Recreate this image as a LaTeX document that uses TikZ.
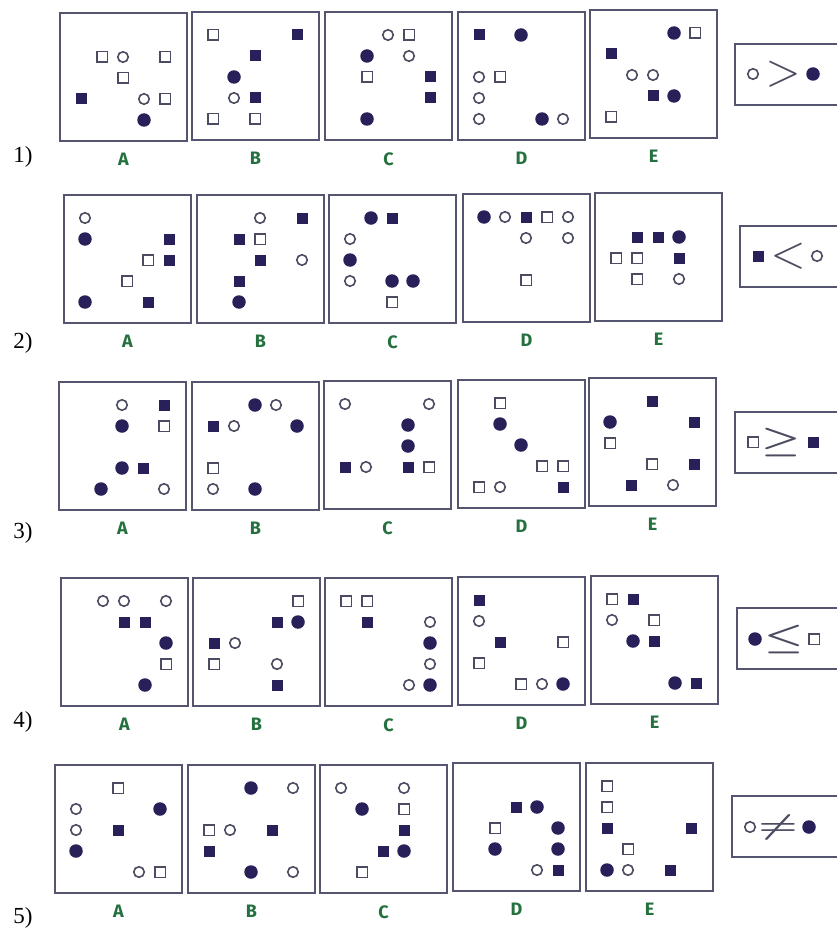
\documentclass[tikz,border=0pt]{standalone}
\usepackage{fontspec}
\usepackage{graphicx}
\usepackage{tikz}
\setmainfont{Liberation Serif}
\newfontfamily\letterfont{Fira Sans}
\usetikzlibrary{positioning}
\definecolor{figink}{RGB}{40, 32, 88}
\definecolor{lineink}{RGB}{75, 75, 98}
\definecolor{framegray}{RGB}{85, 85, 112}
\definecolor{lettergreen}{RGB}{36, 112, 62}

\tikzset{
    panelbox/.style={draw=framegray, line width=1.6pt, minimum width=127pt,
                     minimum height=128pt, inner sep=0pt},
    panellabel/.style={text=lettergreen, font=\letterfont\bfseries\fontsize{18}{18}\selectfont},
    opendot/.style={circle, draw=lineink, line width=1.6pt, minimum size=10.5pt, inner sep=0pt},
    fulldot/.style={circle, fill=figink, minimum size=13.5pt, inner sep=0pt},
    openbox/.style={rectangle, draw=lineink, line width=1.5pt, minimum size=10.5pt, inner sep=0pt},
    fullbox/.style={rectangle, fill=figink, minimum size=11pt, inner sep=0pt},
    relframe/.style={draw=framegray, line width=1.6pt, minimum width=140pt,
                     minimum height=61pt, anchor=north west, inner sep=0pt},
    relsign/.style={text=lineink, inner sep=0pt},
    rowno/.style={font=\fontsize{23}{23}\selectfont}
}

% #1 name, #2 letter, #3 left, #4 top, #5 kind/col/row list
\newcommand{\drawpanel}[5]{%
    \node[panelbox] (#1) at (#3+63.5,#4+64) {};
    \node[panellabel, below=8pt of #1] (#1-name) {#2};
    \foreach \kind/\col/\row [count=\i] in {#5}
        \node[\kind] (#1-\i) at (#3+21*\col,#4+2+21*\row) {};
}

\begin{document}
\begin{tikzpicture}[x=1pt, y=-1pt]
    \useasboundingbox (0,0) rectangle (837,931);
    \fill[white] (0,0) rectangle (837,931);
    \clip (0,0) rectangle (837,931);

    % row 1
    \node[rowno] (row1) at (23,157) {1)};
    \drawpanel{p1a}{A}{60}{13}{openbox/2/2, opendot/3/2, openbox/5/2, openbox/3/3, fullbox/1/4, opendot/4/4, openbox/5/4, fulldot/4/5}
    \drawpanel{p1b}{B}{192}{12}{openbox/1/1, fullbox/5/1, fullbox/3/2, fulldot/2/3, opendot/2/4, fullbox/3/4, openbox/1/5, openbox/3/5}
    \drawpanel{p1c}{C}{325}{12}{opendot/3/1, openbox/4/1, fulldot/2/2, opendot/4/2, openbox/2/3, fullbox/5/3, fullbox/5/4, fulldot/2/5}
    \drawpanel{p1d}{D}{458}{12}{fullbox/1/1, fulldot/3/1, opendot/1/3, openbox/2/3, opendot/1/4, opendot/1/5, fulldot/4/5, opendot/5/5}
    \drawpanel{p1e}{E}{590}{10}{fulldot/4/1, openbox/5/1, fullbox/1/2, opendot/2/3, opendot/3/3, fullbox/3/4, fulldot/4/4, openbox/1/5}
    \node[relframe] (rel1) at (734,43) {};
    \node[opendot] (rel1-a) at (753,74) {};
    \node[relsign] (rel1-op) at (783,74) {\scalebox{4.5}{$>$}};
    \node[fulldot] (rel1-b) at (813,74) {};

    % row 2
    \node[rowno] (row2) at (23,343) {2)};
    \drawpanel{p2a}{A}{64}{195}{opendot/1/1, fulldot/1/2, fullbox/5/2, openbox/4/3, fullbox/5/3, openbox/3/4, fulldot/1/5, fullbox/4/5}
    \drawpanel{p2b}{B}{197}{195}{opendot/3/1, fullbox/5/1, fullbox/2/2, openbox/3/2, fullbox/3/3, opendot/5/3, fullbox/2/4, fulldot/2/5}
    \drawpanel{p2c}{C}{329}{195}{fulldot/2/1, fullbox/3/1, opendot/1/2, fulldot/1/3, opendot/1/4, fulldot/3/4, fulldot/4/4, openbox/3/5}
    \drawpanel{p2d}{D}{463}{194}{fulldot/1/1, opendot/2/1, fullbox/3/1, openbox/4/1, opendot/5/1, opendot/3/2, opendot/5/2, openbox/3/4}
    \drawpanel{p2e}{E}{595}{193}{fullbox/2/2, fullbox/3/2, fulldot/4/2, openbox/1/3, openbox/2/3, fullbox/4/3, openbox/2/4, opendot/4/4}
    \node[relframe] (rel2) at (739,225) {};
    \node[fullbox] (rel2-a) at (758,256) {};
    \node[relsign] (rel2-op) at (788,256) {\scalebox{4.5}{$<$}};
    \node[opendot] (rel2-b) at (817,256) {};

    % row 3
    \node[rowno] (row3) at (23,533) {3)};
    \drawpanel{p3a}{A}{59}{382}{opendot/3/1, fullbox/5/1, fulldot/3/2, openbox/5/2, fulldot/3/4, fullbox/4/4, fulldot/2/5, opendot/5/5}
    \drawpanel{p3b}{B}{192}{382}{fulldot/3/1, opendot/4/1, fullbox/1/2, opendot/2/2, fulldot/5/2, openbox/1/4, opendot/1/5, fulldot/3/5}
    \drawpanel{p3c}{C}{324}{381}{opendot/1/1, opendot/5/1, fulldot/4/2, fulldot/4/3, fullbox/1/4, opendot/2/4, fullbox/4/4, openbox/5/4}
    \drawpanel{p3d}{D}{458}{380}{openbox/2/1, fulldot/2/2, fulldot/3/3, openbox/4/4, openbox/5/4, openbox/1/5, opendot/2/5, fullbox/5/5}
    \drawpanel{p3e}{E}{589}{378}{fullbox/3/1, fulldot/1/2, fullbox/5/2, openbox/1/3, openbox/3/4, fullbox/5/4, fullbox/2/5, opendot/4/5}
    \node[relframe] (rel3) at (734,411) {};
    \node[openbox] (rel3-a) at (753,442) {};
    \node[relsign] (rel3-op) at (781,442) {\scalebox{4.4}[3.2]{\boldmath$\geq$}};
    \node[fullbox] (rel3-b) at (813,442) {};

    % row 4
    \node[rowno] (row4) at (23,722) {4)};
    \drawpanel{p4a}{A}{61}{578}{opendot/2/1, opendot/3/1, opendot/5/1, fullbox/3/2, fullbox/4/2, fulldot/5/3, openbox/5/4, fulldot/4/5}
    \drawpanel{p4b}{B}{193}{578}{openbox/5/1, fullbox/4/2, fulldot/5/2, fullbox/1/3, opendot/2/3, openbox/1/4, opendot/4/4, fullbox/4/5}
    \drawpanel{p4c}{C}{325}{578}{openbox/1/1, openbox/2/1, fullbox/2/2, opendot/5/2, fulldot/5/3, opendot/5/4, opendot/4/5, fulldot/5/5}
    \drawpanel{p4d}{D}{458}{577}{fullbox/1/1, opendot/1/2, fullbox/2/3, openbox/5/3, openbox/1/4, openbox/3/5, opendot/4/5, fulldot/5/5}
    \drawpanel{p4e}{E}{591}{576}{openbox/1/1, fullbox/2/1, opendot/1/2, openbox/3/2, fulldot/2/3, fullbox/3/3, fulldot/4/5, fullbox/5/5}
    \node[relframe] (rel4) at (736,607) {};
    \node[fulldot] (rel4-a) at (755,639) {};
    \node[relsign] (rel4-op) at (784,639) {\scalebox{4.4}[3.2]{\boldmath$\leq$}};
    \node[openbox] (rel4-b) at (814,639) {};

    % row 5
    \node[rowno] (row5) at (23,918) {5)};
    \drawpanel{p5a}{A}{55}{765}{openbox/3/1, opendot/1/2, fulldot/5/2, opendot/1/3, fullbox/3/3, fulldot/1/4, opendot/4/5, openbox/5/5}
    \drawpanel{p5b}{B}{188}{765}{fulldot/3/1, opendot/5/1, openbox/1/3, opendot/2/3, fullbox/4/3, fullbox/1/4, fulldot/3/5, opendot/5/5}
    \drawpanel{p5c}{C}{320}{765}{opendot/1/1, opendot/4/1, fulldot/2/2, openbox/4/2, fullbox/4/3, fullbox/3/4, fulldot/4/4, openbox/2/5}
    \drawpanel{p5d}{D}{453}{763}{fullbox/3/2, fulldot/4/2, openbox/2/3, fulldot/5/3, fulldot/2/4, fulldot/5/4, opendot/4/5, fullbox/5/5}
    \drawpanel{p5e}{E}{586}{763}{openbox/1/1, openbox/1/2, fullbox/1/3, fullbox/5/3, openbox/2/4, fulldot/1/5, opendot/2/5, fullbox/4/5}
    \node[relframe] (rel5) at (731,795) {};
    \node[opendot] (rel5-a) at (750,827) {};
    \node[relsign] (rel5-op) at (778,827) {\scalebox{4.4}[2.8]{\boldmath$\neq$}};
    \node[fulldot] (rel5-b) at (809,827) {};
\end{tikzpicture}
\end{document}
